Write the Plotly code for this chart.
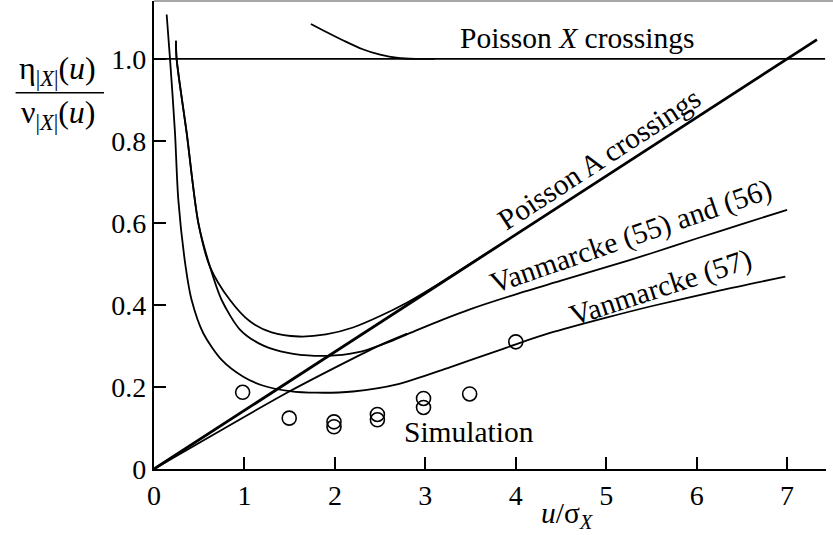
import plotly.graph_objects as go

# ---- data ----
px_level_x = [0.0, 7.42]
px_level_y = [1.0, 1.0]

px_curve_x = [1.735, 1.9, 2.1, 2.3, 2.5, 2.7, 2.9, 3.1]
px_curve_y = [1.085, 1.066, 1.044, 1.024, 1.01, 1.002, 1.0, 1.0]

pa_x = [0.0, 7.33]
pa_y = [0.0, 1.047]

v57_x = [0.14, 0.177, 0.232, 0.269, 0.35, 0.416, 0.545, 0.748, 0.987, 1.21, 1.5,
         1.8, 2.2, 2.7, 3.27, 3.82, 4.0, 4.37, 5.0, 5.52, 6.25, 6.98]
v57_y = [1.108, 1.0, 0.82, 0.656, 0.493, 0.412, 0.331, 0.266, 0.225, 0.203, 0.19,
         0.186, 0.189, 0.207, 0.248, 0.29, 0.304, 0.331, 0.369, 0.398, 0.435, 0.469]

b1_x = [0.243, 0.25, 0.361, 0.49, 0.619, 0.84, 1.06, 1.3, 1.6, 1.9, 2.2,
        2.5, 2.8, 3.1, 3.4, 3.8]
b1_y = [1.044, 1.0, 0.82, 0.6, 0.493, 0.412, 0.36, 0.333, 0.323, 0.328, 0.345,
        0.373, 0.406, 0.445, 0.487, 0.543]

b2_x = [0.243, 0.25, 0.361, 0.49, 0.619, 0.748, 0.95, 1.17, 1.4, 1.7, 2.0,
        2.3, 2.6, 2.9, 3.2, 3.5, 4.0, 4.5, 5.0, 5.5, 6.0, 6.5, 7.0]
b2_y = [1.044, 1.0, 0.82, 0.6, 0.493, 0.412, 0.34, 0.305, 0.287, 0.277, 0.277,
        0.287, 0.31, 0.338, 0.365, 0.39, 0.426, 0.459, 0.492, 0.526, 0.562, 0.597, 0.632]

v55_x = [0.0, 1.48, 2.17, 2.5, 2.8]
v55_y = [0.0, 0.187, 0.266, 0.302, 0.33]

sim_x = [0.98, 1.495, 1.99, 1.99, 2.47, 2.47, 2.98, 2.98, 3.49, 4.0]
sim_y = [0.187, 0.124, 0.115, 0.103, 0.133, 0.12, 0.172, 0.15, 0.183, 0.31]

x_ticks = [0, 1, 2, 3, 4, 5, 6, 7]
x_ticktext = ["0", "1", "2", "3", "4", "5", "6", "7"]
y_ticks = [0, 0.2, 0.4, 0.6, 0.8, 1.0]
y_ticktext = ["0", "0.2", "0.4", "0.6", "0.8", "1.0"]

FONT = "Liberation Serif"
tick_font = dict(family=FONT, size=28, color="black")
lab_font = dict(family=FONT, size=29.5, color="black")
title_font = dict(family=FONT, size=32, color="black")

fig = go.Figure()

def add_line(x, y, w=1.8, shape="spline"):
    fig.add_trace(go.Scatter(x=x, y=y, mode="lines",
                             line=dict(color="black", width=w, shape=shape,
                                       smoothing=0.8),
                             hoverinfo="skip", showlegend=False, cliponaxis=False))

add_line(px_level_x, px_level_y, shape="linear")
add_line(px_curve_x, px_curve_y)
add_line(pa_x, pa_y, 2.8, shape="linear")
add_line(v57_x, v57_y)
add_line(b1_x, b1_y)
add_line(b2_x, b2_y)
add_line(v55_x, v55_y)

fig.add_trace(go.Scatter(x=sim_x, y=sim_y, mode="markers",
                         marker=dict(symbol="circle-open", size=14,
                                     color="black", line=dict(width=1.6)),
                         hoverinfo="skip", showlegend=False, cliponaxis=False))

ann = [
    dict(x=4.68, y=1.05, text="Poisson <i>X</i> crossings", textangle=0),
    dict(x=4.92, y=0.756, text="Poisson A crossings", textangle=-33),
    dict(x=5.27, y=0.567, text="Vanmarcke (55) and (56)", textangle=-19),
    dict(x=5.6, y=0.443, text="Vanmarcke (57)", textangle=-18),
    dict(x=3.48, y=0.091, text="Simulation", textangle=0),
]
annotations = []
for a in ann:
    annotations.append(dict(x=a["x"], y=a["y"], xref="x", yref="y", text=a["text"],
                            textangle=a["textangle"], showarrow=False, font=lab_font,
                            xanchor="center", yanchor="middle"))

# axis titles
annotations.append(dict(x=-0.143, y=0.851, xref="paper", yref="paper",
                        text="η<sub>|<i>X</i>|</sub>(<i>u</i>)", showarrow=False,
                        font=title_font, xanchor="center", yanchor="middle"))
annotations.append(dict(x=-0.143, y=0.757, xref="paper", yref="paper",
                        text="ν<sub>|<i>X</i>|</sub>(<i>u</i>)", showarrow=False,
                        font=title_font, xanchor="center", yanchor="middle"))
annotations.append(dict(x=0.615, y=-0.098, xref="paper", yref="paper",
                        text="<i>u</i>/σ<sub><i>X</i></sub>", showarrow=False,
                        font=lab_font, xanchor="center", yanchor="middle"))

shapes = [
    dict(type="line", xref="paper", yref="paper", x0=-0.206, x1=-0.0744,
         y0=0.804, y1=0.804, line=dict(color="black", width=1.5)),
    dict(type="line", xref="paper", yref="paper", x0=0, x1=1.02,
         y0=1.0, y1=1.0, line=dict(color="#888888", width=1.5)),
]

fig.update_layout(
    width=833, height=535,
    margin=dict(l=154, r=7, t=1, b=66),
    paper_bgcolor="white", plot_bgcolor="white",
    font=tick_font,
    annotations=annotations,
    shapes=shapes,
    xaxis=dict(range=[0, 7.43], tickvals=x_ticks, ticktext=x_ticktext,
               ticks="inside", ticklen=12, tickwidth=1.8, tickcolor="black",
               showline=True, linecolor="black", linewidth=2.2,
               showgrid=False, zeroline=False, tickfont=tick_font),
    yaxis=dict(range=[0, 1.141], tickvals=y_ticks, ticktext=y_ticktext,
               ticks="inside", ticklen=12, tickwidth=1.8, tickcolor="black",
               showline=True, linecolor="black", linewidth=2.2,
               showgrid=False, zeroline=False, tickfont=tick_font),
)

fig.write_html("out.html", config={"displayModeBar": False},
               post_script="document.body.style.margin='0px';")
